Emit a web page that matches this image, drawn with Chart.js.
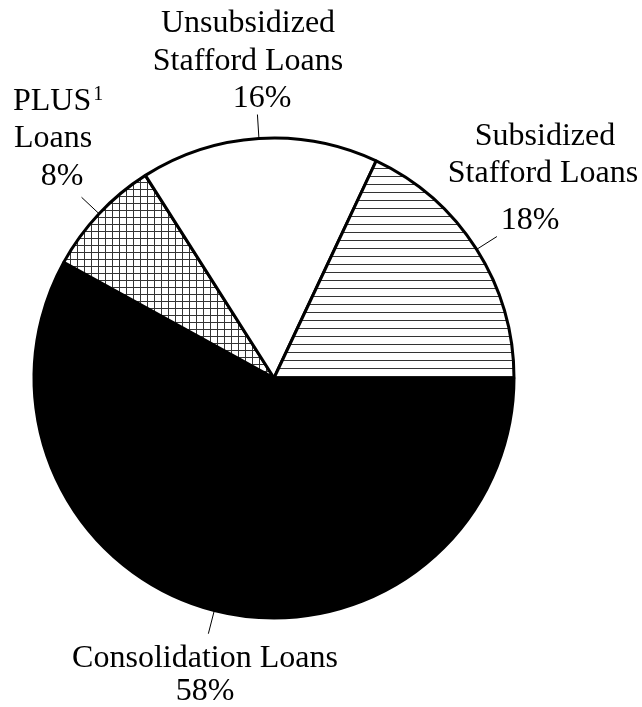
<!DOCTYPE html>
<html>
<head>
<meta charset="utf-8">
<script src="https://cdn.jsdelivr.net/npm/chart.js@4/dist/chart.umd.min.js"></script>
<style>
  html, body { margin: 0; padding: 0; background: #fff; }
  canvas { display: block; }
</style>
</head>
<body>
<canvas id="chartLoans" width="642" height="707"></canvas>
<script>
// Dados do gráfico (ordem horária a partir das 3 horas)
const categories = ['Consolidation Loans', 'PLUS Loans', 'Unsubsidized Stafford Loans', 'Subsidized Stafford Loans'];
const shares = [58, 8, 16, 18];
const percentLabels = ['58%', '8%', '16%', '18%'];

// Texto e posição dos rótulos (x, linha de base)
const labelLayout = [
    { lines: [['Consolidation Loans', 205, 667], ['58%', 205, 700]] },
    { lines: [['PLUS', 13, 110, 'left'], ['Loans', 14, 147, 'left'], ['8%', 62, 185]], sup: ['1', 2, 100] },
    { lines: [['Unsubsidized', 248, 32], ['Stafford Loans', 248, 70], ['16%', 262, 107]] },
    { lines: [['Subsidized', 545, 145], ['Stafford Loans', 543, 182], ['18%', 530, 229]] }
];

const serif = '"Liberation Serif", "Times New Roman", serif';

function makePattern(kind) {
    const c = document.createElement('canvas');
    const size = kind === 'grid' ? 7 : 8;
    c.width = size;
    c.height = size;
    const g = c.getContext('2d');
    g.fillStyle = '#fff';
    g.fillRect(0, 0, size, size);
    g.fillStyle = '#333';
    g.fillRect(0, 0, size, 1);
    if (kind === 'grid') g.fillRect(0, 0, 1, size);
    return g.createPattern(c, 'repeat');
}

const ctx = document.getElementById('chartLoans').getContext('2d');

const leaderPlugin = {
    id: 'leaderLabels',
    afterDatasetsDraw(chart) {
        const c = chart.ctx;
        const arcs = chart.getDatasetMeta(0).data;
        c.save();
        c.strokeStyle = '#000';
        c.lineWidth = 1;
        arcs.forEach(function(arc, i) {
            const mid = (arc.startAngle + arc.endAngle) / 2;
            const r = arc.outerRadius;
            c.beginPath();
            c.moveTo(arc.x + Math.cos(mid) * r, arc.y + Math.sin(mid) * r);
            c.lineTo(arc.x + Math.cos(mid) * (r + 24), arc.y + Math.sin(mid) * (r + 24));
            c.stroke();
        });
        c.fillStyle = '#000';
        c.textBaseline = 'alphabetic';
        const font = '32px ' + serif;
        c.font = font;
        labelLayout.forEach(function(lab) {
            lab.lines.forEach(function(l) {
                c.textAlign = l[3] || 'center';
                c.fillText(l[0], l[1], l[2]);
            });
            if (lab.sup) {
                // expoente logo depois da primeira linha
                const first = lab.lines[0];
                const x = first[1] + c.measureText(first[0]).width + lab.sup[1];
                c.font = '20px ' + serif;
                c.textAlign = 'left';
                c.fillText(lab.sup[0], x, lab.sup[2]);
                c.font = font;
            }
        });
        c.restore();
    }
};

new Chart(ctx, {
    type: 'pie',
    data: {
        labels: categories,
        datasets: [{
            data: shares,
            backgroundColor: ['#000', makePattern('grid'), '#fff', makePattern('lines')],
            borderColor: '#000',
            borderWidth: 3
        }]
    },
    options: {
        responsive: false,
        animation: false,
        rotation: 90,
        radius: 240,
        layout: {
            padding: { left: 34, right: 128, top: 138, bottom: 89 }
        },
        plugins: {
            legend: { display: false },
            tooltip: { enabled: false }
        }
    },
    plugins: [leaderPlugin]
});
</script>
</body>
</html>
